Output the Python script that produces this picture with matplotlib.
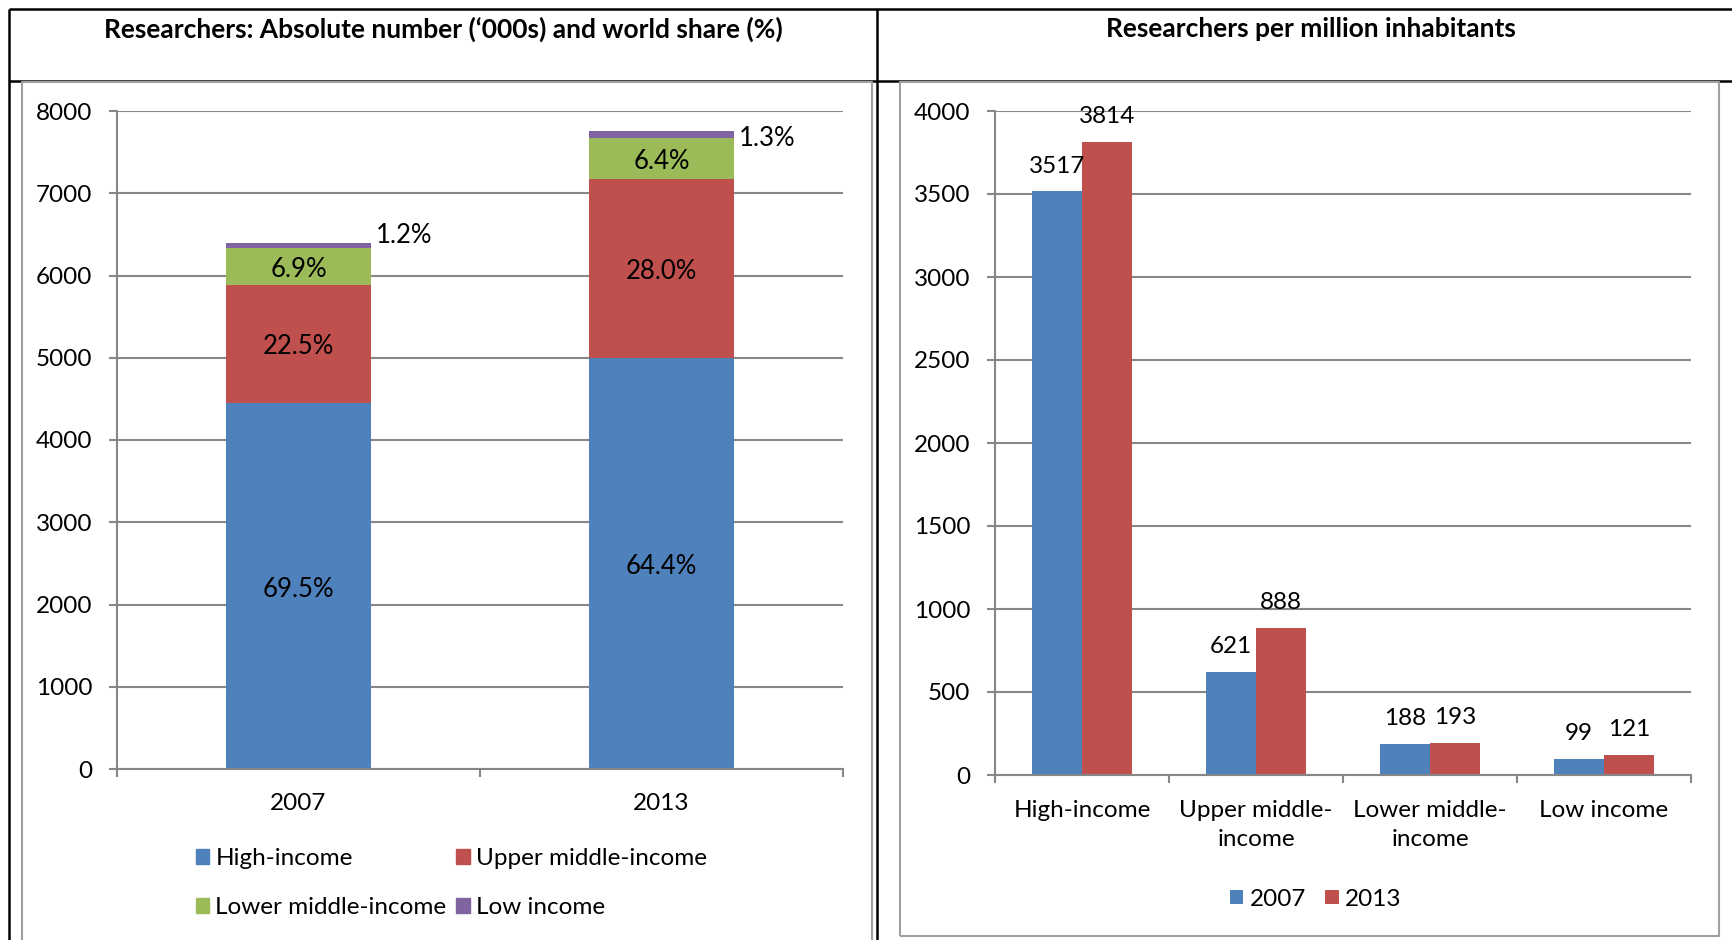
import matplotlib
matplotlib.use("Agg")
import matplotlib.pyplot as plt
from matplotlib.lines import Line2D
from matplotlib.patches import Patch
import numpy as np

# Left panel: researchers ('000s), stacked by income group
years = ["2007", "2013"]
high_income = [4449, 4997]
upper_middle = [1441, 2172]
lower_middle = [440, 497]
low_income = [71, 94]
high_share = ["69.5%", "64.4%"]
upper_share = ["22.5%", "28.0%"]
lower_share = ["6.9%", "6.4%"]
low_share = ["1.2%", "1.3%"]

# Right panel: researchers per million inhabitants
income_cats = ["High-income", "Upper middle-\nincome", "Lower middle-\nincome", "Low income"]
per_million_2007 = [3517, 621, 188, 99]
per_million_2013 = [3814, 888, 193, 121]

BLUE, RED, GREEN, PURPLE = "#4F81BD", "#C0504D", "#9BBB59", "#8064A2"
GRID = "#878787"
FRAME = "#A0A0A0"
W, H = 1733, 940
FS = 17.5

plt.rcParams["font.family"] = ["Lato", "DejaVu Sans"]

fig = plt.figure(figsize=(W / 100, H / 100), dpi=100)


def rect(x0, y0, x1, y1):
    "Figure-fraction box from pixel corners (measured from top left)."
    return [x0 / W, 1 - y1 / H, (x1 - x0) / W, (y1 - y0) / H]


def line(xs, ys, color="black", lw=1.8):
    "Draw a line in figure pixels."
    fig.add_artist(Line2D([x / W for x in xs], [1 - y / H for y in ys],
                          color=color, lw=lw, transform=fig.transFigure,
                          solid_capstyle="butt"))


def style_axes(ax, n_cats):
    for s in ["top", "right"]:
        ax.spines[s].set_visible(False)
    for s in ["left", "bottom"]:
        ax.spines[s].set_color(GRID)
        ax.spines[s].set_linewidth(1.5)
    ax.set_axisbelow(True)
    ax.yaxis.grid(True, color=GRID, lw=1.5)
    ax.set_xlim(-0.5, n_cats - 0.5)
    ax.set_xticks(np.arange(n_cats))
    ax.set_xticks(np.arange(n_cats + 1) - 0.5, minor=True)
    ax.tick_params(axis="x", which="major", length=0, labelsize=FS)
    ax.tick_params(axis="x", which="minor", length=5.8, width=1.5, color=GRID)
    ax.tick_params(axis="y", length=5.8, width=1.5, color=GRID, pad=12, labelsize=FS)


# table lines
line([9, W], [9, 9])
line([9, 9], [9, H])
line([9, W], [81, 81])
line([877, 877], [9, H])
# chart frames
line([22, 22, 872, 872], [H + 5, 82, 82, H + 5], color=FRAME, lw=1.5)
line([900, 900, 1719, 1719, 900], [936, 82, 82, 936, 936], color=FRAME, lw=1.5)

fig.text(443 / W, 1 - 29 / H, "Researchers: Absolute number (\u2018000s) and world share (%)",
         ha="center", va="center", fontsize=19, fontweight="bold")
fig.text(1311 / W, 1 - 29 / H, "Researchers per million inhabitants",
         ha="center", va="center", fontsize=19, fontweight="bold")

# ---- left: stacked bars
ax1 = fig.add_axes(rect(117, 111, 843, 769))
x = np.arange(len(years))
bottom = np.zeros(len(years))
low_dy = [7, -8]  # small-segment labels sit beside the bar top
series = [(high_income, high_share, BLUE, "High-income"),
          (upper_middle, upper_share, RED, "Upper middle-income"),
          (lower_middle, lower_share, GREEN, "Lower middle-income"),
          (low_income, low_share, PURPLE, "Low income")]
for vals, shares, color, name in series:
    ax1.bar(x, vals, 0.4, bottom=bottom, color=color, label=name)
    for i, (xi, b, v, s) in enumerate(zip(x, bottom, vals, shares)):
        if name == "Low income":
            ax1.annotate(s, xy=(xi + 0.2, b + v), xytext=(5, low_dy[i]), textcoords="offset pixels",
                         ha="left", va="center", fontsize=FS + 1)
        else:
            ax1.annotate(s, xy=(xi, b + v / 2), xytext=(0, -3), textcoords="offset pixels",
                         ha="center", va="center", fontsize=FS + 1)
    bottom = bottom + np.array(vals)
style_axes(ax1, len(years))
ax1.set_ylim(0, 8000)
ax1.set_yticks(range(0, 8001, 1000))
ax1.set_xticklabels(years)
ax1.tick_params(axis="x", which="major", pad=17)

h = [Patch(color=c) for c in (BLUE, GREEN, RED, PURPLE)]
lab = ["High-income", "Lower middle-income", "Upper middle-income", "Low income"]
ax1.legend(h, lab, ncol=2, loc="center left", bbox_to_anchor=(196 / W, 1 - 883 / H),
           bbox_transform=fig.transFigure, frameon=False, fontsize=FS,
           handlelength=0.55, handleheight=0.55, handletextpad=0.25,
           columnspacing=0.4, labelspacing=1.15, borderpad=0, borderaxespad=0)

# ---- right: grouped bars
ax2 = fig.add_axes(rect(995, 111, 1691, 775))
xc = np.arange(len(income_cats))
bw = 0.285
b07 = ax2.bar(xc - bw / 2, per_million_2007, bw, color=BLUE, label="2007")
b13 = ax2.bar(xc + bw / 2, per_million_2013, bw, color=RED, label="2013")
for bars, vals in [(b07, per_million_2007), (b13, per_million_2013)]:
    for r, v in zip(bars, vals):
        ax2.annotate(str(v), xy=(r.get_x() + r.get_width() / 2, v), xytext=(0, 25),
                     textcoords="offset pixels", ha="center", va="center", fontsize=FS)
style_axes(ax2, len(income_cats))
ax2.set_ylim(0, 4000)
ax2.set_yticks(range(0, 4001, 500))
ax2.set_xticklabels(income_cats, linespacing=1.5)
ax2.tick_params(axis="x", which="major", pad=18)
ax2.legend(loc="center left", bbox_to_anchor=(1230 / W, 1 - 899 / H),
           bbox_transform=fig.transFigure, ncol=2, frameon=False, fontsize=FS,
           handlelength=0.55, handleheight=0.55, handletextpad=0.25,
           columnspacing=0.8, borderpad=0, borderaxespad=0)

fig.savefig("out.png", dpi=100)
